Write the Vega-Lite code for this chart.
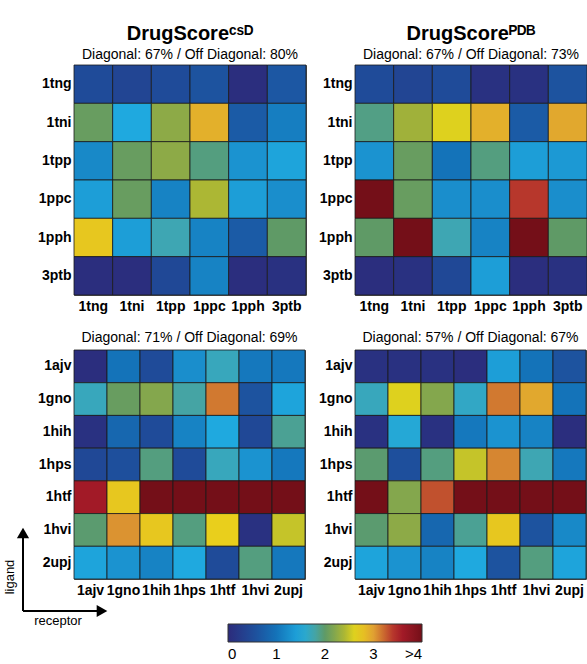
{
  "$schema": "https://vega.github.io/schema/vega-lite/v6.json",
  "padding": {"left": 3, "top": 23, "right": 0, "bottom": 0},
  "background": "white",
  "datasets": {
    "cells": [
      {"panel":"CSD-A","ligand":"1tng","receptor":"1tng","value":0.5},
      {"panel":"CSD-A","ligand":"1tng","receptor":"1tni","value":0.4},
      {"panel":"CSD-A","ligand":"1tng","receptor":"1tpp","value":0.5},
      {"panel":"CSD-A","ligand":"1tng","receptor":"1ppc","value":0.6},
      {"panel":"CSD-A","ligand":"1tng","receptor":"1pph","value":0.05},
      {"panel":"CSD-A","ligand":"1tng","receptor":"3ptb","value":0.65},
      {"panel":"CSD-A","ligand":"1tni","receptor":"1tng","value":2.05},
      {"panel":"CSD-A","ligand":"1tni","receptor":"1tni","value":1.5},
      {"panel":"CSD-A","ligand":"1tni","receptor":"1tpp","value":2.25},
      {"panel":"CSD-A","ligand":"1tni","receptor":"1ppc","value":2.9},
      {"panel":"CSD-A","ligand":"1tni","receptor":"1pph","value":0.7},
      {"panel":"CSD-A","ligand":"1tni","receptor":"3ptb","value":1.1},
      {"panel":"CSD-A","ligand":"1tpp","receptor":"1tng","value":1.2},
      {"panel":"CSD-A","ligand":"1tpp","receptor":"1tni","value":2.05},
      {"panel":"CSD-A","ligand":"1tpp","receptor":"1tpp","value":2.25},
      {"panel":"CSD-A","ligand":"1tpp","receptor":"1ppc","value":1.92},
      {"panel":"CSD-A","ligand":"1tpp","receptor":"1pph","value":1.3},
      {"panel":"CSD-A","ligand":"1tpp","receptor":"3ptb","value":1.45},
      {"panel":"CSD-A","ligand":"1ppc","receptor":"1tng","value":1.4},
      {"panel":"CSD-A","ligand":"1ppc","receptor":"1tni","value":2.05},
      {"panel":"CSD-A","ligand":"1ppc","receptor":"1tpp","value":1.15},
      {"panel":"CSD-A","ligand":"1ppc","receptor":"1ppc","value":2.4},
      {"panel":"CSD-A","ligand":"1ppc","receptor":"1pph","value":1.4},
      {"panel":"CSD-A","ligand":"1ppc","receptor":"3ptb","value":1.25},
      {"panel":"CSD-A","ligand":"1pph","receptor":"1tng","value":2.75},
      {"panel":"CSD-A","ligand":"1pph","receptor":"1tni","value":1.4},
      {"panel":"CSD-A","ligand":"1pph","receptor":"1tpp","value":1.75},
      {"panel":"CSD-A","ligand":"1pph","receptor":"1ppc","value":1.15},
      {"panel":"CSD-A","ligand":"1pph","receptor":"1pph","value":0.7},
      {"panel":"CSD-A","ligand":"1pph","receptor":"3ptb","value":2.0},
      {"panel":"CSD-A","ligand":"3ptb","receptor":"1tng","value":0.05},
      {"panel":"CSD-A","ligand":"3ptb","receptor":"1tni","value":0.05},
      {"panel":"CSD-A","ligand":"3ptb","receptor":"1tpp","value":0.45},
      {"panel":"CSD-A","ligand":"3ptb","receptor":"1ppc","value":1.15},
      {"panel":"CSD-A","ligand":"3ptb","receptor":"1pph","value":0.05},
      {"panel":"CSD-A","ligand":"3ptb","receptor":"3ptb","value":0.1},

      {"panel":"PDB-A","ligand":"1tng","receptor":"1tng","value":0.5},
      {"panel":"PDB-A","ligand":"1tng","receptor":"1tni","value":0.4},
      {"panel":"PDB-A","ligand":"1tng","receptor":"1tpp","value":0.5},
      {"panel":"PDB-A","ligand":"1tng","receptor":"1ppc","value":0.1},
      {"panel":"PDB-A","ligand":"1tng","receptor":"1pph","value":0.1},
      {"panel":"PDB-A","ligand":"1tng","receptor":"3ptb","value":0.6},
      {"panel":"PDB-A","ligand":"1tni","receptor":"1tng","value":1.9},
      {"panel":"PDB-A","ligand":"1tni","receptor":"1tni","value":2.35},
      {"panel":"PDB-A","ligand":"1tni","receptor":"1tpp","value":2.6},
      {"panel":"PDB-A","ligand":"1tni","receptor":"1ppc","value":2.9},
      {"panel":"PDB-A","ligand":"1tni","receptor":"1pph","value":0.7},
      {"panel":"PDB-A","ligand":"1tni","receptor":"3ptb","value":2.95},
      {"panel":"PDB-A","ligand":"1tpp","receptor":"1tng","value":1.3},
      {"panel":"PDB-A","ligand":"1tpp","receptor":"1tni","value":2.05},
      {"panel":"PDB-A","ligand":"1tpp","receptor":"1tpp","value":1.0},
      {"panel":"PDB-A","ligand":"1tpp","receptor":"1ppc","value":1.92},
      {"panel":"PDB-A","ligand":"1tpp","receptor":"1pph","value":1.4},
      {"panel":"PDB-A","ligand":"1tpp","receptor":"3ptb","value":1.35},
      {"panel":"PDB-A","ligand":"1ppc","receptor":"1tng","value":4.5},
      {"panel":"PDB-A","ligand":"1ppc","receptor":"1tni","value":2.05},
      {"panel":"PDB-A","ligand":"1ppc","receptor":"1tpp","value":1.25},
      {"panel":"PDB-A","ligand":"1ppc","receptor":"1ppc","value":1.25},
      {"panel":"PDB-A","ligand":"1ppc","receptor":"1pph","value":3.4},
      {"panel":"PDB-A","ligand":"1ppc","receptor":"3ptb","value":1.25},
      {"panel":"PDB-A","ligand":"1pph","receptor":"1tng","value":2.0},
      {"panel":"PDB-A","ligand":"1pph","receptor":"1tni","value":4.5},
      {"panel":"PDB-A","ligand":"1pph","receptor":"1tpp","value":1.75},
      {"panel":"PDB-A","ligand":"1pph","receptor":"1ppc","value":1.15},
      {"panel":"PDB-A","ligand":"1pph","receptor":"1pph","value":4.5},
      {"panel":"PDB-A","ligand":"1pph","receptor":"3ptb","value":2.0},
      {"panel":"PDB-A","ligand":"3ptb","receptor":"1tng","value":0.05},
      {"panel":"PDB-A","ligand":"3ptb","receptor":"1tni","value":0.1},
      {"panel":"PDB-A","ligand":"3ptb","receptor":"1tpp","value":0.45},
      {"panel":"PDB-A","ligand":"3ptb","receptor":"1ppc","value":1.4},
      {"panel":"PDB-A","ligand":"3ptb","receptor":"1pph","value":0.05},
      {"panel":"PDB-A","ligand":"3ptb","receptor":"3ptb","value":0.1},

      {"panel":"CSD-B","ligand":"1ajv","receptor":"1ajv","value":0.05},
      {"panel":"CSD-B","ligand":"1ajv","receptor":"1gno","value":1.0},
      {"panel":"CSD-B","ligand":"1ajv","receptor":"1hih","value":0.5},
      {"panel":"CSD-B","ligand":"1ajv","receptor":"1hps","value":1.25},
      {"panel":"CSD-B","ligand":"1ajv","receptor":"1htf","value":1.7},
      {"panel":"CSD-B","ligand":"1ajv","receptor":"1hvi","value":1.05},
      {"panel":"CSD-B","ligand":"1ajv","receptor":"2upj","value":1.05},
      {"panel":"CSD-B","ligand":"1gno","receptor":"1ajv","value":1.7},
      {"panel":"CSD-B","ligand":"1gno","receptor":"1gno","value":2.05},
      {"panel":"CSD-B","ligand":"1gno","receptor":"1hih","value":2.2},
      {"panel":"CSD-B","ligand":"1gno","receptor":"1hps","value":1.8},
      {"panel":"CSD-B","ligand":"1gno","receptor":"1htf","value":3.15},
      {"panel":"CSD-B","ligand":"1gno","receptor":"1hvi","value":0.6},
      {"panel":"CSD-B","ligand":"1gno","receptor":"2upj","value":1.45},
      {"panel":"CSD-B","ligand":"1hih","receptor":"1ajv","value":0.1},
      {"panel":"CSD-B","ligand":"1hih","receptor":"1gno","value":0.85},
      {"panel":"CSD-B","ligand":"1hih","receptor":"1hih","value":0.5},
      {"panel":"CSD-B","ligand":"1hih","receptor":"1hps","value":1.15},
      {"panel":"CSD-B","ligand":"1hih","receptor":"1htf","value":1.5},
      {"panel":"CSD-B","ligand":"1hih","receptor":"1hvi","value":0.45},
      {"panel":"CSD-B","ligand":"1hih","receptor":"2upj","value":1.85},
      {"panel":"CSD-B","ligand":"1hps","receptor":"1ajv","value":0.45},
      {"panel":"CSD-B","ligand":"1hps","receptor":"1gno","value":0.55},
      {"panel":"CSD-B","ligand":"1hps","receptor":"1hih","value":1.92},
      {"panel":"CSD-B","ligand":"1hps","receptor":"1hps","value":0.5},
      {"panel":"CSD-B","ligand":"1hps","receptor":"1htf","value":1.7},
      {"panel":"CSD-B","ligand":"1hps","receptor":"1hvi","value":1.3},
      {"panel":"CSD-B","ligand":"1hps","receptor":"2upj","value":1.05},
      {"panel":"CSD-B","ligand":"1htf","receptor":"1ajv","value":3.6},
      {"panel":"CSD-B","ligand":"1htf","receptor":"1gno","value":2.75},
      {"panel":"CSD-B","ligand":"1htf","receptor":"1hih","value":4.5},
      {"panel":"CSD-B","ligand":"1htf","receptor":"1hps","value":4.5},
      {"panel":"CSD-B","ligand":"1htf","receptor":"1htf","value":4.5},
      {"panel":"CSD-B","ligand":"1htf","receptor":"1hvi","value":4.5},
      {"panel":"CSD-B","ligand":"1htf","receptor":"2upj","value":4.5},
      {"panel":"CSD-B","ligand":"1hvi","receptor":"1ajv","value":1.97},
      {"panel":"CSD-B","ligand":"1hvi","receptor":"1gno","value":3.05},
      {"panel":"CSD-B","ligand":"1hvi","receptor":"1hih","value":2.75},
      {"panel":"CSD-B","ligand":"1hvi","receptor":"1hps","value":1.92},
      {"panel":"CSD-B","ligand":"1hvi","receptor":"1htf","value":2.7},
      {"panel":"CSD-B","ligand":"1hvi","receptor":"1hvi","value":0.1},
      {"panel":"CSD-B","ligand":"1hvi","receptor":"2upj","value":2.5},
      {"panel":"CSD-B","ligand":"2upj","receptor":"1ajv","value":1.45},
      {"panel":"CSD-B","ligand":"2upj","receptor":"1gno","value":1.3},
      {"panel":"CSD-B","ligand":"2upj","receptor":"1hih","value":1.15},
      {"panel":"CSD-B","ligand":"2upj","receptor":"1hps","value":1.5},
      {"panel":"CSD-B","ligand":"2upj","receptor":"1htf","value":0.5},
      {"panel":"CSD-B","ligand":"2upj","receptor":"1hvi","value":1.92},
      {"panel":"CSD-B","ligand":"2upj","receptor":"2upj","value":1.05},

      {"panel":"PDB-B","ligand":"1ajv","receptor":"1ajv","value":0.1},
      {"panel":"PDB-B","ligand":"1ajv","receptor":"1gno","value":0.1},
      {"panel":"PDB-B","ligand":"1ajv","receptor":"1hih","value":0.1},
      {"panel":"PDB-B","ligand":"1ajv","receptor":"1hps","value":0.05},
      {"panel":"PDB-B","ligand":"1ajv","receptor":"1htf","value":1.4},
      {"panel":"PDB-B","ligand":"1ajv","receptor":"1hvi","value":1.0},
      {"panel":"PDB-B","ligand":"1ajv","receptor":"2upj","value":0.6},
      {"panel":"PDB-B","ligand":"1gno","receptor":"1ajv","value":1.7},
      {"panel":"PDB-B","ligand":"1gno","receptor":"1gno","value":2.6},
      {"panel":"PDB-B","ligand":"1gno","receptor":"1hih","value":2.2},
      {"panel":"PDB-B","ligand":"1gno","receptor":"1hps","value":1.65},
      {"panel":"PDB-B","ligand":"1gno","receptor":"1htf","value":3.15},
      {"panel":"PDB-B","ligand":"1gno","receptor":"1hvi","value":2.95},
      {"panel":"PDB-B","ligand":"1gno","receptor":"2upj","value":1.0},
      {"panel":"PDB-B","ligand":"1hih","receptor":"1ajv","value":0.1},
      {"panel":"PDB-B","ligand":"1hih","receptor":"1gno","value":1.55},
      {"panel":"PDB-B","ligand":"1hih","receptor":"1hih","value":0.1},
      {"panel":"PDB-B","ligand":"1hih","receptor":"1hps","value":1.05},
      {"panel":"PDB-B","ligand":"1hih","receptor":"1htf","value":1.3},
      {"panel":"PDB-B","ligand":"1hih","receptor":"1hvi","value":1.15},
      {"panel":"PDB-B","ligand":"1hih","receptor":"2upj","value":0.05},
      {"panel":"PDB-B","ligand":"1hps","receptor":"1ajv","value":1.97},
      {"panel":"PDB-B","ligand":"1hps","receptor":"1gno","value":0.55},
      {"panel":"PDB-B","ligand":"1hps","receptor":"1hih","value":1.92},
      {"panel":"PDB-B","ligand":"1hps","receptor":"1hps","value":2.5},
      {"panel":"PDB-B","ligand":"1hps","receptor":"1htf","value":3.1},
      {"panel":"PDB-B","ligand":"1hps","receptor":"1hvi","value":1.75},
      {"panel":"PDB-B","ligand":"1hps","receptor":"2upj","value":1.05},
      {"panel":"PDB-B","ligand":"1htf","receptor":"1ajv","value":4.5},
      {"panel":"PDB-B","ligand":"1htf","receptor":"1gno","value":2.2},
      {"panel":"PDB-B","ligand":"1htf","receptor":"1hih","value":3.3},
      {"panel":"PDB-B","ligand":"1htf","receptor":"1hps","value":4.5},
      {"panel":"PDB-B","ligand":"1htf","receptor":"1htf","value":4.5},
      {"panel":"PDB-B","ligand":"1htf","receptor":"1hvi","value":4.5},
      {"panel":"PDB-B","ligand":"1htf","receptor":"2upj","value":4.5},
      {"panel":"PDB-B","ligand":"1hvi","receptor":"1ajv","value":1.97},
      {"panel":"PDB-B","ligand":"1hvi","receptor":"1gno","value":2.25},
      {"panel":"PDB-B","ligand":"1hvi","receptor":"1hih","value":0.85},
      {"panel":"PDB-B","ligand":"1hvi","receptor":"1hps","value":1.85},
      {"panel":"PDB-B","ligand":"1hvi","receptor":"1htf","value":2.75},
      {"panel":"PDB-B","ligand":"1hvi","receptor":"1hvi","value":0.6},
      {"panel":"PDB-B","ligand":"1hvi","receptor":"2upj","value":1.2},
      {"panel":"PDB-B","ligand":"2upj","receptor":"1ajv","value":1.45},
      {"panel":"PDB-B","ligand":"2upj","receptor":"1gno","value":1.3},
      {"panel":"PDB-B","ligand":"2upj","receptor":"1hih","value":1.15},
      {"panel":"PDB-B","ligand":"2upj","receptor":"1hps","value":1.5},
      {"panel":"PDB-B","ligand":"2upj","receptor":"1htf","value":0.6},
      {"panel":"PDB-B","ligand":"2upj","receptor":"1hvi","value":1.92},
      {"panel":"PDB-B","ligand":"2upj","receptor":"2upj","value":1.45}
    ],
    "arrows": [
      {"axis":"ligand","x0":0,"y0":0,"x1":0,"y1":1},
      {"axis":"receptor","x0":0,"y0":0,"x1":1,"y1":0}
    ]
  },
  "config": {
    "font": "Liberation Sans",
    "view": {"stroke": "#555", "strokeWidth": 1},
    "axis": {"domain": false, "ticks": false, "labelFont": "Liberation Sans", "labelFontSize": 14, "labelFontWeight": "bold", "labelColor": "#000", "labelOverlap": false, "labelBound": false},
    "axisX": {"labelAngle": 0, "labelPadding": 4},
    "axisY": {"labelPadding": 3},
    "title": {"font": "Liberation Sans", "fontSize": 20, "fontWeight": "bold", "color": "#000", "subtitleFont": "Liberation Sans", "subtitleFontSize": 14, "subtitleColor": "#000", "subtitlePadding": 4, "offset": 3, "anchor": "middle"}
  },
  "columns": 2,
  "spacing": {"row": 55, "column": 49},
  "bounds": "flush",
  "concat": [
    {
      "title": {"text": "DrugScoreᶜˢᴰ", "subtitle": "Diagonal: 67% / Off Diagonal: 80%"},
      "width": 232, "height": 230,
      "data": {"name": "cells"},
      "transform": [{"filter": "datum.panel === 'CSD-A'"}],
      "mark": {"type": "rect", "stroke": "#1a1a1a", "strokeWidth": 0.8},
      "encoding": {
        "x": {"field": "receptor", "type": "nominal", "sort": ["1tng","1tni","1tpp","1ppc","1pph","3ptb"], "title": null},
        "y": {"field": "ligand", "type": "nominal", "sort": ["1tng","1tni","1tpp","1ppc","1pph","3ptb"], "title": null},
        "color": {"field": "value", "type": "quantitative",
          "scale": {"domain": [0,0.5,1,1.5,1.75,2,2.35,2.65,3,3.5,4], "range": ["#2c2b7b","#1f4b99","#1473b9","#1fa9df","#3ea6b3","#5f9a66","#a0b13a","#ead718","#e0a032","#ad1d2b","#740f18"], "clamp": true, "interpolate": "rgb"},
          "legend": {"orient": "none", "legendX": 154, "legendY": 559, "direction": "horizontal", "gradientLength": 194, "gradientThickness": 18, "title": null, "values": [0,1,2,3,4], "labelExpr": "datum.value >= 4 ? '>4' : datum.label", "labelFontSize": 15, "labelFont": "Liberation Sans", "labelColor": "#000", "labelAlign": "center", "labelOffset": 5, "gradientStrokeColor": "#333", "gradientStrokeWidth": 1}}
      }
    },
    {
      "title": {"text": "DrugScoreᴾᴰᴮ", "subtitle": "Diagonal: 67% / Off Diagonal: 73%"},
      "width": 232, "height": 230,
      "data": {"name": "cells"},
      "transform": [{"filter": "datum.panel === 'PDB-A'"}],
      "mark": {"type": "rect", "stroke": "#1a1a1a", "strokeWidth": 0.8},
      "encoding": {
        "x": {"field": "receptor", "type": "nominal", "sort": ["1tng","1tni","1tpp","1ppc","1pph","3ptb"], "title": null},
        "y": {"field": "ligand", "type": "nominal", "sort": ["1tng","1tni","1tpp","1ppc","1pph","3ptb"], "title": null},
        "color": {"field": "value", "type": "quantitative",
          "scale": {"domain": [0,0.5,1,1.5,1.75,2,2.35,2.65,3,3.5,4], "range": ["#2c2b7b","#1f4b99","#1473b9","#1fa9df","#3ea6b3","#5f9a66","#a0b13a","#ead718","#e0a032","#ad1d2b","#740f18"], "clamp": true, "interpolate": "rgb"},
          "legend": {"orient": "none", "legendX": 154, "legendY": 559, "direction": "horizontal", "gradientLength": 194, "gradientThickness": 18, "title": null, "values": [0,1,2,3,4], "labelExpr": "datum.value >= 4 ? '>4' : datum.label", "labelFontSize": 15, "labelFont": "Liberation Sans", "labelColor": "#000", "labelAlign": "center", "labelOffset": 5, "gradientStrokeColor": "#333", "gradientStrokeWidth": 1}}
      }
    },
    {
      "title": {"text": "Diagonal: 71% / Off Diagonal: 69%", "fontSize": 14, "fontWeight": "normal", "offset": 5},
      "width": 231, "height": 229,
      "layer": [
        {
          "data": {"name": "cells"},
          "transform": [{"filter": "datum.panel === 'CSD-B'"}],
          "mark": {"type": "rect", "stroke": "#1a1a1a", "strokeWidth": 0.8},
          "encoding": {
            "x": {"field": "receptor", "type": "nominal", "sort": ["1ajv","1gno","1hih","1hps","1htf","1hvi","2upj"], "title": null},
            "y": {"field": "ligand", "type": "nominal", "sort": ["1ajv","1gno","1hih","1hps","1htf","1hvi","2upj"], "title": null},
            "color": {"field": "value", "type": "quantitative",
              "scale": {"domain": [0,0.5,1,1.5,1.75,2,2.35,2.65,3,3.5,4], "range": ["#2c2b7b","#1f4b99","#1473b9","#1fa9df","#3ea6b3","#5f9a66","#a0b13a","#ead718","#e0a032","#ad1d2b","#740f18"], "clamp": true, "interpolate": "rgb"},
              "legend": {"orient": "none", "legendX": 154, "legendY": 559, "direction": "horizontal", "gradientLength": 194, "gradientThickness": 18, "title": null, "values": [0,1,2,3,4], "labelExpr": "datum.value >= 4 ? '>4' : datum.label", "labelFontSize": 15, "labelFont": "Liberation Sans", "labelColor": "#000", "labelAlign": "center", "labelOffset": 5, "gradientStrokeColor": "#333", "gradientStrokeWidth": 1}}
          }
        },
        {
          "data": {"name": "arrows"},
          "layer": [
            {
              "mark": {"type": "rule", "color": "#000", "strokeWidth": 2},
              "encoding": {
                "x": {"field": "x0", "type": "quantitative", "scale": {"domain": [0, 1], "range": [-51, 28], "zero": false, "nice": false}, "axis": null},
                "x2": {"field": "x1"},
                "y": {"field": "y0", "type": "quantitative", "scale": {"domain": [0, 1], "range": [261, 183], "zero": false, "nice": false}, "axis": null},
                "y2": {"field": "y1"}
              }
            },
            {
              "mark": {"type": "point", "filled": true, "color": "#000", "size": 150, "opacity": 1},
              "encoding": {
                "x": {"field": "x1", "type": "quantitative", "axis": null},
                "y": {"field": "y1", "type": "quantitative", "axis": null},
                "shape": {"field": "axis", "type": "nominal", "scale": {"domain": ["ligand", "receptor"], "range": ["triangle-up", "triangle-right"]}, "legend": null}
              }
            },
            {
              "transform": [{"filter": "datum.axis === 'ligand'"}],
              "mark": {"type": "text", "angle": 270, "dx": 34, "dy": -13, "fontSize": 13, "font": "Liberation Sans", "color": "#000", "align": "center", "baseline": "middle"},
              "encoding": {
                "x": {"field": "x0", "type": "quantitative", "axis": null},
                "y": {"field": "y0", "type": "quantitative", "axis": null},
                "text": {"field": "axis"}
              }
            },
            {
              "transform": [{"filter": "datum.axis === 'receptor'"}],
              "mark": {"type": "text", "dx": 35, "dy": 10, "fontSize": 13, "font": "Liberation Sans", "color": "#000", "align": "center", "baseline": "middle"},
              "encoding": {
                "x": {"field": "x0", "type": "quantitative", "axis": null},
                "y": {"field": "y0", "type": "quantitative", "axis": null},
                "text": {"field": "axis"}
              }
            }
          ]
        }
      ],
      "resolve": {"scale": {"x": "independent", "y": "independent"}}
    },
    {
      "title": {"text": "Diagonal: 57% / Off Diagonal: 67%", "fontSize": 14, "fontWeight": "normal", "offset": 5},
      "width": 231, "height": 229,
      "data": {"name": "cells"},
      "transform": [{"filter": "datum.panel === 'PDB-B'"}],
      "mark": {"type": "rect", "stroke": "#1a1a1a", "strokeWidth": 0.8},
      "encoding": {
        "x": {"field": "receptor", "type": "nominal", "sort": ["1ajv","1gno","1hih","1hps","1htf","1hvi","2upj"], "title": null},
        "y": {"field": "ligand", "type": "nominal", "sort": ["1ajv","1gno","1hih","1hps","1htf","1hvi","2upj"], "title": null},
        "color": {"field": "value", "type": "quantitative",
          "scale": {"domain": [0,0.5,1,1.5,1.75,2,2.35,2.65,3,3.5,4], "range": ["#2c2b7b","#1f4b99","#1473b9","#1fa9df","#3ea6b3","#5f9a66","#a0b13a","#ead718","#e0a032","#ad1d2b","#740f18"], "clamp": true, "interpolate": "rgb"},
          "legend": {"orient": "none", "legendX": 154, "legendY": 559, "direction": "horizontal", "gradientLength": 194, "gradientThickness": 18, "title": null, "values": [0,1,2,3,4], "labelExpr": "datum.value >= 4 ? '>4' : datum.label", "labelFontSize": 15, "labelFont": "Liberation Sans", "labelColor": "#000", "labelAlign": "center", "labelOffset": 5, "gradientStrokeColor": "#333", "gradientStrokeWidth": 1}}
      }
    }
  ]
}
